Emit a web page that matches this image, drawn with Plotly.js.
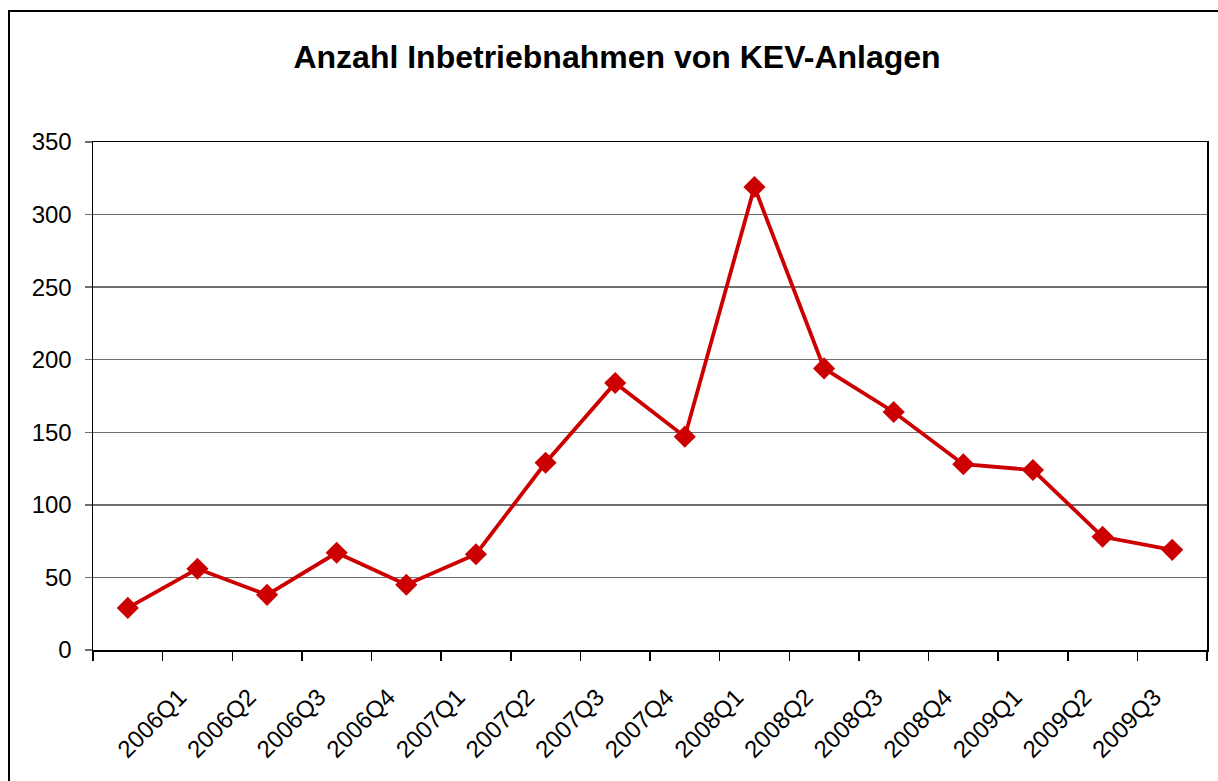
<!DOCTYPE html>
<html>
<head>
<meta charset="utf-8">
<script src="https://cdn.plot.ly/plotly-3.0.1.min.js"></script>
<style>
  html, body { margin: 0; padding: 0; overflow: hidden; background: #fff; width: 1218px; height: 781px; }
  #frame { position: absolute; left: 8px; top: 10px; width: 1240px; height: 800px; border: 2px solid #000; box-sizing: border-box; }
  #chart { position: absolute; left: 0; top: 0; width: 1236px; height: 796px; }
</style>
</head>
<body>
<div id="frame"><div id="chart"></div></div>
<script>
// Category labels (first category has no label in the reference)
const quarters = ["", "2006Q1", "2006Q2", "2006Q3", "2006Q4", "2007Q1", "2007Q2", "2007Q3",
                  "2007Q4", "2008Q1", "2008Q2", "2008Q3", "2008Q4", "2009Q1", "2009Q2", "2009Q3"];
// Number of commissionings per quarter
const counts = [29, 56, 38, 67, 45, 66, 129, 184, 147, 319, 194, 164, 128, 124, 78, 69];
const yTicks = [0, 50, 100, 150, 200, 250, 300, 350];

const idx = quarters.map((_, i) => i);
const labelIdx = idx.filter(i => quarters[i] !== "");
const boundaries = quarters.map((_, i) => i - 0.5).concat([quarters.length - 0.5]);

const font = "Liberation Sans, Arial, sans-serif";

const trace = {
  x: idx,
  y: counts,
  type: "scatter",
  mode: "lines+markers",
  line: { color: "#CC0000", width: 3.8 },
  marker: { symbol: "diamond", size: 17, color: "#CC0000" },
  hoverinfo: "x+y",
  showlegend: false
};

const layout = {
  width: 1236,
  height: 796,
  margin: { l: 83, r: 39, t: 130, b: 158 },
  paper_bgcolor: "#ffffff",
  plot_bgcolor: "#ffffff",
  font: { family: font, color: "#000", size: 24 },
  title: {
    text: "<b>Anzahl Inbetriebnahmen von KEV-Anlagen</b>",
    font: { family: font, size: 32, color: "#000" },
    xref: "paper", x: 0.4704, xanchor: "center",
    yref: "container", y: 1 - 45 / 796, yanchor: "middle"
  },
  xaxis: {
    type: "linear",
    range: [-0.5, quarters.length - 0.5],
    tickmode: "array",
    tickvals: labelIdx,
    ticktext: labelIdx.map(i => quarters[i]),
    tickangle: -45,
    ticks: "",
    ticklabelstandoff: 22,
    ticklabelshift: -18,
    showgrid: false,
    zeroline: false,
    showline: true,
    linecolor: "#000",
    linewidth: 1.5,
    mirror: true,
    tickfont: { family: font, size: 24, color: "#000" },
    minor: {
      tickmode: "array",
      tickvals: boundaries,
      ticks: "outside",
      ticklen: 9,
      tickwidth: 1.5,
      tickcolor: "#000",
      showgrid: false
    },
    fixedrange: true
  },
  yaxis: {
    range: [0, 350],
    tickmode: "array",
    tickvals: yTicks,
    ticks: "outside",
    ticklen: 7,
    tickwidth: 1.5,
    tickcolor: "#707070",
    showgrid: true,
    gridcolor: "#707070",
    gridwidth: 1.5,
    zeroline: false,
    showline: true,
    linecolor: "#000",
    linewidth: 1.5,
    mirror: true,
    ticklabelstandoff: 8,
    tickfont: { family: font, size: 24, color: "#000" },
    fixedrange: true
  }
};

Plotly.newPlot("chart", [trace], layout, { displayModeBar: false, staticPlot: true });
</script>
</body>
</html>
